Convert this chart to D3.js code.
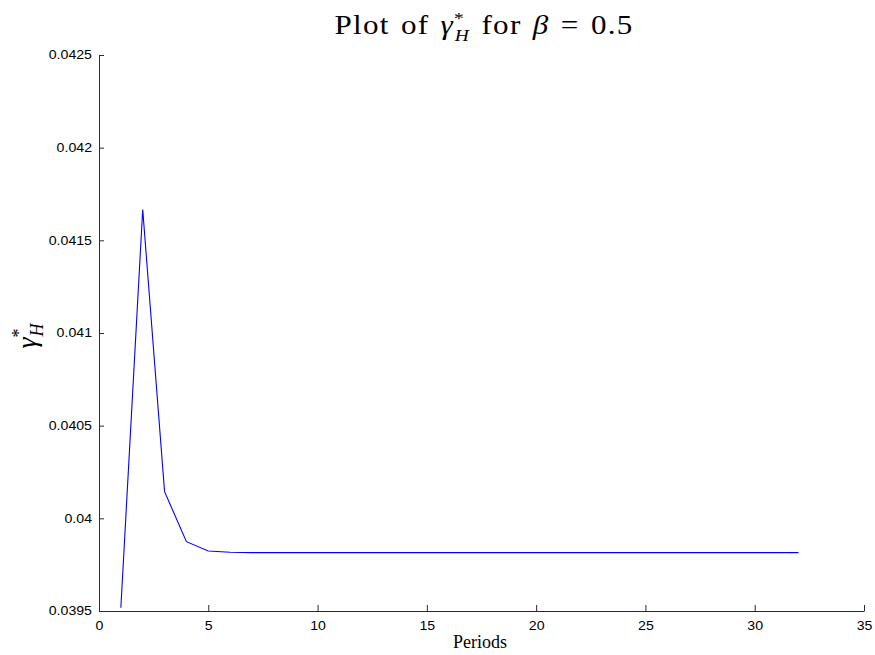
<!DOCTYPE html>
<html>
<head>
<meta charset="utf-8">
<script src="https://cdn.jsdelivr.net/npm/d3@7"></script>
<style>
  body { margin: 0; background: #fff; }
  svg { display: block; }
</style>
</head>
<body>
<svg id="chart" width="875" height="655"></svg>
<script>
// Data
const periods = d3.range(1, 33);
const gammaH = [
  0.039518, 0.0416667, 0.040144, 0.039874, 0.039824, 0.039817, 0.039815, 0.039815,
  0.039815, 0.039815, 0.039815, 0.039815, 0.039815, 0.039815, 0.039815, 0.039815,
  0.039815, 0.039815, 0.039815, 0.039815, 0.039815, 0.039815, 0.039815, 0.039815,
  0.039815, 0.039815, 0.039815, 0.039815, 0.039815, 0.039815, 0.039815, 0.039815
];
const xTicks = [0, 5, 10, 15, 20, 25, 30, 35];
const yTicks = [0.0395, 0.04, 0.0405, 0.041, 0.0415, 0.042, 0.0425];
const yTickLabels = ["0.0395", "0.04", "0.0405", "0.041", "0.0415", "0.042", "0.0425"];

const svg = d3.select("#chart");
const mLeft = 99, mRight = 864, mTop = 55, mBottom = 611;

const x = d3.scaleLinear().domain([0, 35]).range([mLeft, mRight]);
const y = d3.scaleLinear().domain([0.0395, 0.0425]).range([mBottom, mTop]);

const axisColor = "#2b2b2b";
const sans = "Liberation Sans, Arial, sans-serif";
const tickSX = 1.18;

// X axis (ticks pointing inward)
const xAxis = d3.axisBottom(x).tickValues(xTicks).tickSizeInner(-6).tickSizeOuter(0).tickPadding(10);
const gx = svg.append("g").attr("transform", `translate(0,${mBottom})`).call(xAxis);
gx.select(".domain").attr("stroke", axisColor);
gx.selectAll(".tick line").attr("stroke", axisColor);
gx.selectAll(".tick text")
  .attr("fill", "#000").attr("font-family", sans).attr("font-size", "12px")
  .attr("transform", `scale(${tickSX},1)`);

// Y axis
const yPad = 7;
const yAxis = d3.axisLeft(y).tickValues(yTicks).tickFormat((d, i) => yTickLabels[i]).tickSizeInner(-5).tickSizeOuter(0).tickPadding(yPad);
const gy = svg.append("g").attr("transform", `translate(${mLeft},0)`).call(yAxis);
gy.select(".domain").attr("stroke", axisColor);
gy.selectAll(".tick line").attr("stroke", axisColor);
gy.selectAll(".tick text")
  .attr("fill", "#000").attr("font-family", sans).attr("font-size", "12px")
  .attr("x", -yPad / tickSX)
  .attr("transform", `scale(${tickSX},1)`);

// Line
const line = d3.line().x((d, i) => x(periods[i])).y(d => y(d));
svg.append("path")
  .datum(gammaH)
  .attr("fill", "none")
  .attr("stroke", "#0000ff")
  .attr("stroke-width", 1.1)
  .attr("d", line);

// Title
const serif = "Liberation Serif, Times New Roman, serif";
const title = svg.append("text")
  .attr("transform", "translate(484,34) scale(1.15,1)")
  .attr("text-anchor", "middle")
  .attr("font-family", serif)
  .attr("font-size", "27px")
  .attr("letter-spacing", "1.1px")
  .attr("word-spacing", "2px")
  .attr("fill", "#000");
title.append("tspan").text("Plot of ");
title.append("tspan").attr("font-style", "italic").text("γ");
title.append("tspan").attr("font-size", "17px").attr("dy", -10).text("*");
title.append("tspan").attr("font-size", "17px").attr("font-style", "italic").attr("dx", -9).attr("dy", 17).text("H");
title.append("tspan").attr("dy", -7).text(" for ");
title.append("tspan").attr("font-style", "italic").text("β");
title.append("tspan").text(" = 0.5");

// X label
svg.append("text")
  .attr("x", 480).attr("y", 648)
  .attr("text-anchor", "middle")
  .attr("font-family", serif)
  .attr("font-size", "18px")
  .attr("fill", "#000")
  .text("Periods");

// Y label
const yl = svg.append("text")
  .attr("transform", "translate(36,336) rotate(-90)")
  .attr("text-anchor", "middle")
  .attr("font-family", serif)
  .attr("font-size", "28px")
  .attr("fill", "#000");
yl.append("tspan").attr("font-style", "italic").text("γ");
yl.append("tspan").attr("font-size", "18px").attr("dy", -11).text("*");
yl.append("tspan").attr("font-size", "18px").attr("font-style", "italic").attr("dx", -8).attr("dy", 18).text("H");
</script>
</body>
</html>
